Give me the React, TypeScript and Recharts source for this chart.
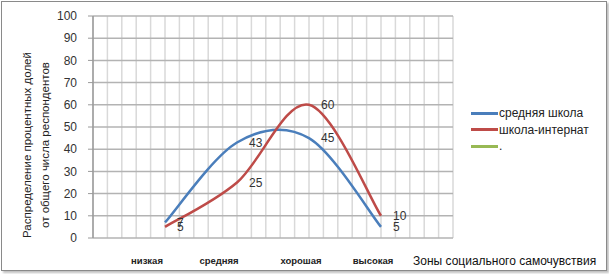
import { CartesianGrid, LabelList, Line, LineChart, XAxis, YAxis } from "recharts";

// zones on the horizontal axis and their x positions
const zones = ["низкая", "средняя", "хорошая", "высокая"];
const zoneX = [5, 10, 15, 20];

// percentage shares per zone
const regularSchool = [7, 43, 45, 5];
const boardingSchool = [5, 25, 60, 10];
const emptySeries: (number | null)[] = [null, null, null, null];

const yTicks = [0, 10, 20, 30, 40, 50, 60, 70, 80, 90, 100];
const xGridTicks = [0, 1, 2, 3, 4, 5, 6, 7, 8, 9, 10, 11, 12, 13, 14, 15, 16, 17, 18, 19, 20, 21, 22, 23, 24, 25];

const series = [
  { key: "regular", name: "средняя школа", color: "#4a7ebb" },
  { key: "boarding", name: "школа-интернат", color: "#be4b48" },
  { key: "other", name: ".", color: "#98b954" },
];

const chartData = zoneX.map((x, i) => ({
  x,
  regular: regularSchool[i],
  boarding: boardingSchool[i],
  other: emptySeries[i],
}));

const FONT = '"Liberation Sans", Arial, sans-serif';

// excel-like smoothed line (catmull-rom as cubic bezier)
const excelSmooth = (context: any) => {
  let pts: number[][] = [];
  return {
    areaStart() {},
    areaEnd() {},
    lineStart() {
      pts = [];
    },
    point(x: number, y: number) {
      pts.push([+x, +y]);
    },
    lineEnd() {
      const n = pts.length;
      if (!n) return;
      context.moveTo(pts[0][0], pts[0][1]);
      for (let i = 0; i < n - 1; i++) {
        const p0 = pts[Math.max(i - 1, 0)];
        const p1 = pts[i];
        const p2 = pts[i + 1];
        const p3 = pts[Math.min(i + 2, n - 1)];
        context.bezierCurveTo(
          p1[0] + (p2[0] - p0[0]) / 6,
          p1[1] + (p2[1] - p0[1]) / 6,
          p2[0] - (p3[0] - p1[0]) / 6,
          p2[1] - (p3[1] - p1[1]) / 6,
          p2[0],
          p2[1]
        );
      }
    },
  };
};

// labels sit a bit left of their points in the original
const labelShift = [-18, -18, -8, -8];

function ZoneTick(props: any) {
  const { x, y, payload } = props;
  const idx = zoneX.indexOf(payload.value);
  if (idx < 0) return null;
  return (
    <text
      x={x + labelShift[idx]}
      y={y + 18}
      textAnchor="middle"
      fontFamily={FONT}
      fontSize={9.5}
      fontWeight="bold"
      fill="#222"
    >
      {zones[idx]}
    </text>
  );
}

export default function App() {
  return (
    <div style={{ position: "fixed", left: 0, top: 0, width: 609, height: 274, background: "#fff", fontFamily: FONT }}>
      <div
        style={{
          position: "absolute",
          left: 1,
          top: 1,
          width: 604,
          height: 268,
          border: "1px solid #8a8a8a",
          boxShadow: "2px 2px 2px rgba(0,0,0,0.25)",
        }}
      />
      <div style={{ position: "absolute", left: 0, top: 0 }}>
        <LineChart width={609} height={274} data={chartData} margin={{ top: 16, right: 156, bottom: 6, left: 43 }}>
          <CartesianGrid horizontal={false} stroke="#d9d9d9" strokeWidth={1.5} />
          <CartesianGrid vertical={false} stroke="#b3b3b3" strokeWidth={1.5} />
          <XAxis
            type="number"
            dataKey="x"
            domain={[0, 25]}
            ticks={xGridTicks}
            interval={0}
            axisLine={false}
            tickLine={false}
            height={30}
            tick={<ZoneTick />}
          />
          <YAxis
            domain={[0, 100]}
            ticks={yTicks}
            interval={0}
            width={50}
            axisLine={{ stroke: "#9a9a9a", strokeWidth: 1.5 }}
            tickLine={{ stroke: "#9a9a9a" }}
            tickSize={5}
            tickMargin={11}
            tick={{ fontSize: 12, fill: "#333", fontFamily: FONT }}
          />
          {series.map((s) => (
            <Line
              key={s.key}
              dataKey={s.key}
              name={s.name}
              type={excelSmooth as any}
              stroke={s.color}
              strokeWidth={2.5}
              dot={false}
              activeDot={false}
              isAnimationActive={false}
            >
              {s.key !== "other" && (
                <LabelList
                  dataKey={s.key}
                  position="right"
                  offset={12}
                  fontSize={12}
                  fill="#333"
                  fontFamily={FONT}
                />
              )}
            </Line>
          ))}
        </LineChart>
      </div>

      {/* y axis title */}
      <div
        style={{
          position: "absolute",
          left: 36,
          top: 145,
          transform: "translate(-50%, -50%) rotate(-90deg)",
          whiteSpace: "nowrap",
          textAlign: "center",
          fontSize: 11.5,
          lineHeight: "18px",
          color: "#222",
        }}
      >
        Распределение процентных долей
        <br />
        от общего числа респондентов
      </div>

      {/* x axis title */}
      <div
        style={{
          position: "absolute",
          left: 413,
          top: 254,
          whiteSpace: "nowrap",
          fontSize: 12,
          color: "#111",
        }}
      >
        Зоны социального самочувствия
      </div>

      {/* legend */}
      <div style={{ position: "absolute", left: 471, top: 105 }}>
        {series.map((s) => (
          <div key={s.key} style={{ display: "flex", alignItems: "center", height: 16.5 }}>
            <div style={{ width: 27, height: 3, background: s.color }} />
            <span style={{ fontSize: 12, color: "#222", marginLeft: 1 }}>{s.name}</span>
          </div>
        ))}
      </div>
    </div>
  );
}
